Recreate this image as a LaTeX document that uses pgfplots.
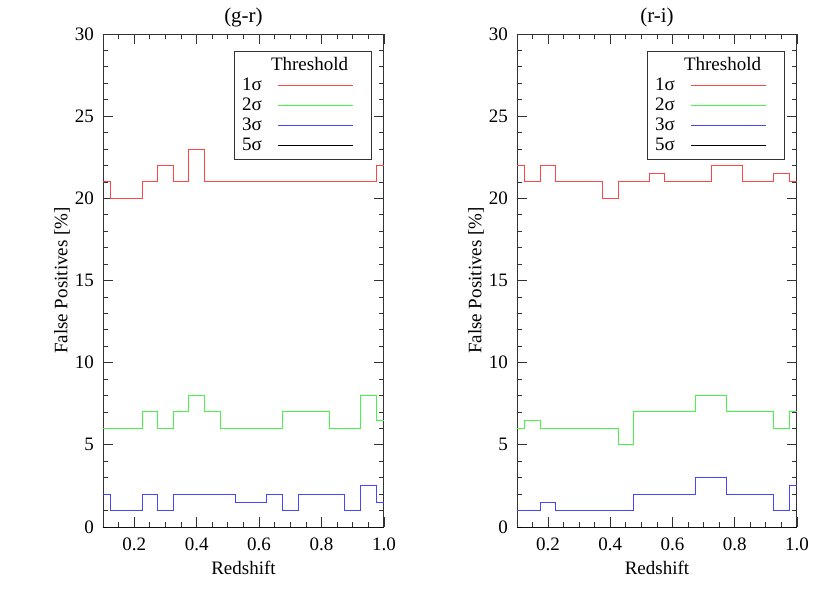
\documentclass[border=0pt]{standalone}
\usepackage{fontspec}
\setmainfont{Liberation Serif}
\usepackage{pgfplots}
\usepackage{pgfplotstable}
\pgfplotsset{compat=1.18}

\definecolor{lred}{RGB}{255,70,70}
\definecolor{lgreen}{RGB}{70,245,70}
\definecolor{lblue}{RGB}{70,70,255}

% columns: redshift, 1sigma, 2sigma, 3sigma, 5sigma
\pgfplotstableread{
z    s1   s2   s3   s5
0.10 21   6    2    0
0.15 20   6    1    0
0.20 20   6    1    0
0.25 21   7    2    0
0.30 22   6    1    0
0.35 21   7    2    0
0.40 23   8    2    0
0.45 21   7    2    0
0.50 21   6    2    0
0.55 21   6    1.5  0
0.60 21   6    1.5  0
0.65 21   6    2    0
0.70 21   7    1    0
0.75 21   7    2    0
0.80 21   7    2    0
0.85 21   6    2    0
0.90 21   6    1    0
0.95 21   8    2.5  0
1.00 22   6.5  1.5  0
}\gr

\pgfplotstableread{
z    s1   s2   s3   s5
0.10 22   6    1    0
0.15 21   6.5  1    0
0.20 22   6    1.5  0
0.25 21   6    1    0
0.30 21   6    1    0
0.35 21   6    1    0
0.40 20   6    1    0
0.45 21   5    1    0
0.50 21   7    2    0
0.55 21.5 7    2    0
0.60 21   7    2    0
0.65 21   7    2    0
0.70 21   8    3    0
0.75 22   8    3    0
0.80 22   7    2    0
0.85 21   7    2    0
0.90 21   7    2    0
0.95 21.5 6    1    0
1.00 21   7    2.5  0
}\ri

\pgfplotsset{
  every axis title shift=0pt,
  legline/.style={legend image code/.code={%
      \draw[#1, line width=0.5pt] (6pt,0pt) -- (43.5pt,0pt);
      \path (0pt,0pt) (50.5pt,0pt);}},
  fpstyle/.style={
    scale only axis, width=140.5pt, height=246.5pt,
    anchor=south west,
    xmin=0.1, xmax=1.0, ymin=0, ymax=30,
    xtick={0.2,0.4,0.6,0.8,1.0},
    minor xtick={0.15,0.25,0.3,0.35,0.45,0.5,0.55,0.65,0.7,0.75,0.85,0.9,0.95},
    ytick={0,5,10,15,20,25,30},
    minor y tick num=4,
    tick align=inside,
    major tick length=5pt, minor tick length=2.5pt,
    tick style={black!80, line width=0.4pt},
    axis line style={black!80, line width=0.5pt},
    xticklabel style={/pgf/number format/fixed, /pgf/number format/fixed zerofill,
      /pgf/number format/precision=1, yshift=-2pt},
    yticklabel style={xshift=-1pt},
    /pgf/number format/assume math mode=true,
    font=\fontsize{9.5}{11}\selectfont,
    xlabel={Redshift},
    ylabel={False Positives [\%]},
    xlabel style={at={(axis description cs:0.5,-0.083)}, anchor=center},
    ylabel style={at={(axis description cs:-0.146,0.5)}, anchor=center},
    title style={at={(axis description cs:0.5,1)}, anchor=base, yshift=6pt,
      font=\fontsize{10.5}{12}\selectfont},
    legend style={draw=black!80, line width=0.4pt,
      at={(1,1)}, anchor=north east, xshift=-6pt, yshift=-8.5pt,
      inner xsep=2pt, inner ysep=0.5pt, row sep=-3pt,
      font=\fontsize{9.5}{11}\selectfont},
    legend cell align=left,
    legend plot pos=right,
  }
}

\begin{document}
\begin{tikzpicture}
\path[use as bounding box] (0,0) rectangle (415pt,-296.5pt);

\begin{axis}[fpstyle, at={(51.5pt,-263.5pt)}, title={(g-r)}]
\addplot[lred, const plot mark mid, line width=0.5pt, forget plot] table[x=z,y=s1] {\gr};
\addplot[lgreen, const plot mark mid, line width=0.5pt, forget plot] table[x=z,y=s2] {\gr};
\addplot[lblue, const plot mark mid, line width=0.5pt, forget plot] table[x=z,y=s3] {\gr};
\addplot[black, const plot mark mid, line width=0.5pt, forget plot] table[x=z,y=s5] {\gr};
\addlegendimage{legend image code/.code={\path (0pt,0pt) (50.5pt,0pt);}}
\addlegendentry[text height=7pt, text depth=2pt]{\makebox[0pt][l]{\hspace{14.5pt}Threshold}}
\addlegendimage{legline=lred}
\addlegendentry[text height=7pt, text depth=2pt]{1σ}
\addlegendimage{legline=lgreen}
\addlegendentry[text height=7pt, text depth=2pt]{2σ}
\addlegendimage{legline=lblue}
\addlegendentry[text height=7pt, text depth=2pt]{3σ}
\addlegendimage{legline=black}
\addlegendentry[text height=7pt, text depth=2pt]{5σ}
\end{axis}

\begin{axis}[fpstyle, at={(258.5pt,-263.5pt)}, width=140pt, title={(r-i)}]
\addplot[lred, const plot mark mid, line width=0.5pt, forget plot] table[x=z,y=s1] {\ri};
\addplot[lgreen, const plot mark mid, line width=0.5pt, forget plot] table[x=z,y=s2] {\ri};
\addplot[lblue, const plot mark mid, line width=0.5pt, forget plot] table[x=z,y=s3] {\ri};
\addplot[black, const plot mark mid, line width=0.5pt, forget plot] table[x=z,y=s5] {\ri};
\addlegendimage{legend image code/.code={\path (0pt,0pt) (50.5pt,0pt);}}
\addlegendentry[text height=7pt, text depth=2pt]{\makebox[0pt][l]{\hspace{14.5pt}Threshold}}
\addlegendimage{legline=lred}
\addlegendentry[text height=7pt, text depth=2pt]{1σ}
\addlegendimage{legline=lgreen}
\addlegendentry[text height=7pt, text depth=2pt]{2σ}
\addlegendimage{legline=lblue}
\addlegendentry[text height=7pt, text depth=2pt]{3σ}
\addlegendimage{legline=black}
\addlegendentry[text height=7pt, text depth=2pt]{5σ}
\end{axis}
\end{tikzpicture}
\end{document}
